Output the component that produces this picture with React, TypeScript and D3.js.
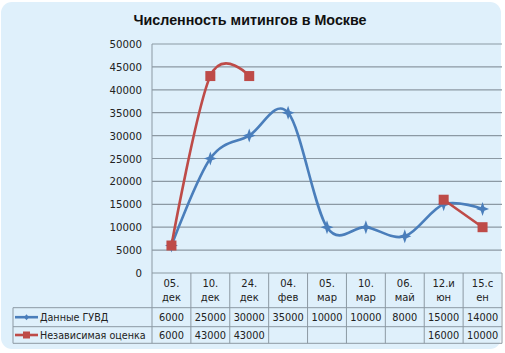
import * as d3 from "d3";

const categories = ["05.|дек", "10.|дек", "24.|дек", "04.|фев", "05.|мар", "10.|мар", "06.|май", "12.и|юн", "15.с|ен"];
const guvd: (number | null)[] = [6000, 25000, 30000, 35000, 10000, 10000, 8000, 15000, 14000];
const independent: (number | null)[] = [6000, 43000, 43000, null, null, null, null, 16000, 10000];
const yTicks = [0, 5000, 10000, 15000, 20000, 25000, 30000, 35000, 40000, 45000, 50000];

const series = [
  { name: "Данные ГУВД", values: guvd, color: "#4a7ebb", marker: "star" },
  { name: "Независимая оценка", values: independent, color: "#be4b48", marker: "square" },
];

const W = 505;
const H = 353;
const PL = 152;
const PR = 502;
const PT = 44;
const PB = 273;
const ROW1 = 307.7;
const ROW2 = 326.7;
const ROW3 = 343.3;
const LEG = 13;
const FONT = "DejaVu Sans, Verdana, sans-serif";
const GRID = "#8c99a3";

const x = d3.scaleBand<number>().domain(d3.range(categories.length)).range([PL, PR]);
const y = d3.scaleLinear().domain([0, 50000]).range([PB, PT]);

function Marker({ kind, cx, cy, color }: { kind: string; cx: number; cy: number; color: string }) {
  if (kind === "square") {
    return <rect x={cx - 5} y={cy - 5} width={10} height={10} fill={color} />;
  }
  const p = [
    [0, -7], [1.8, -1.8], [6.5, 0], [1.8, 1.8], [0, 7], [-1.8, 1.8], [-6.5, 0], [-1.8, -1.8],
  ].map(([a, b]) => `${cx + a},${cy + b}`).join(" ");
  return <polygon points={p} fill={color} />;
}

export default function App() {
  const line = d3
    .line<number | null>()
    .defined((d) => d !== null)
    .x((_, i) => x(i)! + x.bandwidth() / 2)
    .y((d) => y(d as number))
    .curve(d3.curveCardinal.tension(0));

  const colX = (i: number) => x(i)! + x.bandwidth() / 2;

  return (
    <svg width={W} height={H} style={{ position: "absolute", left: 0, top: 0 }} fontFamily={FONT}>
      <rect x={0} y={0} width={W} height={H} fill="#fff" />
      <rect x={1} y={2} width={500} height={347} rx={11} fill="#dff0fb" />
      <text x={250} y={25} textAnchor="middle" fontFamily="Liberation Sans, Arial, sans-serif" fontWeight={700} fontSize={14.3} fill="#111">
        Численность митингов в Москве
      </text>
      {yTicks.map((t) => (
        <g key={t}>
          {t > 0 && <line x1={PL} x2={PR} y1={y(t)} y2={y(t)} stroke={GRID} strokeWidth={1.2} />}
          <text x={142} y={y(t) + 4} textAnchor="end" fontSize={10.2} fill="#222">{t}</text>
        </g>
      ))}
      {/* table frame */}
      <line x1={PL} x2={PL} y1={PT} y2={ROW3} stroke={GRID} />
      <line x1={PL} x2={PR} y1={PB} y2={PB} stroke={GRID} strokeWidth={1.2} />
      <line x1={LEG} x2={PR} y1={ROW1} y2={ROW1} stroke={GRID} />
      <line x1={LEG} x2={PR} y1={ROW2} y2={ROW2} stroke={GRID} />
      <line x1={LEG} x2={PR} y1={ROW3} y2={ROW3} stroke={GRID} />
      <line x1={LEG} x2={LEG} y1={ROW1} y2={ROW3} stroke={GRID} />
      {categories.map((c, i) => (
        <g key={c}>
          <line x1={x(i)! + x.bandwidth()} x2={x(i)! + x.bandwidth()} y1={PB} y2={ROW3} stroke={GRID} />
          <text x={colX(i)} y={287} textAnchor="middle" fontSize={10} fill="#222">{c.split("|")[0]}</text>
          <text x={colX(i)} y={301} textAnchor="middle" fontSize={10} fill="#222">{c.split("|")[1]}</text>
        </g>
      ))}
      {series.map((s, si) => {
        const rowY = si === 0 ? (ROW1 + ROW2) / 2 : (ROW2 + ROW3) / 2;
        return (
          <g key={s.name}>
            <path d={line(s.values) ?? ""} fill="none" stroke={s.color} strokeWidth={2.6} />
            {s.values.map((v, i) =>
              v === null ? null : <Marker key={i} kind={s.marker} cx={colX(i)} cy={y(v)} color={s.color} />
            )}
            <line x1={15} x2={38} y1={rowY} y2={rowY} stroke={s.color} strokeWidth={2.6} />
            {s.marker === "square" ? (
              <rect x={23} y={rowY - 3.5} width={7} height={7} fill={s.color} />
            ) : (
              <polygon points={`${26.5},${rowY - 3} ${29},${rowY} ${26.5},${rowY + 3} ${24},${rowY}`} fill={s.color} />
            )}
            <text x={40} y={rowY + 3.5} fontSize={9.6} fill="#222">{s.name}</text>
            {s.values.map((v, i) =>
              v === null ? null : (
                <text key={i} x={colX(i)} y={rowY + 3.5} textAnchor="middle" fontSize={9.8} fill="#222">{v}</text>
              )
            )}
          </g>
        );
      })}
    </svg>
  );
}
